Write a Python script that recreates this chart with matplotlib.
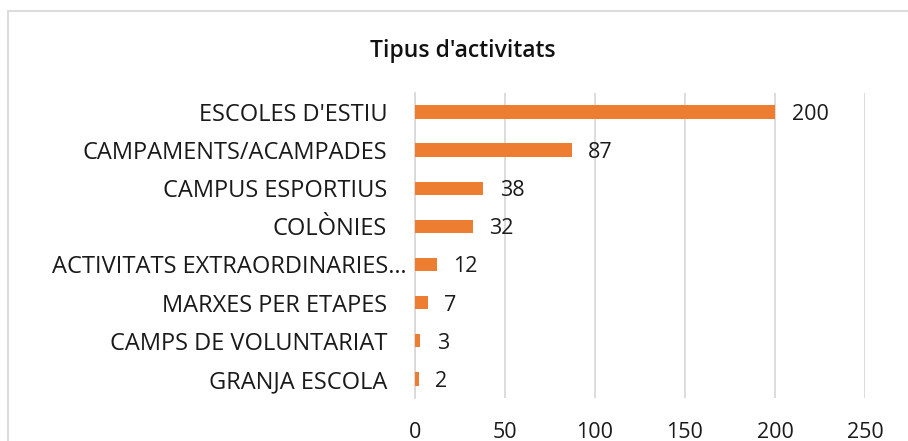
import matplotlib.pyplot as plt
from matplotlib.patches import Rectangle
from matplotlib.transforms import ScaledTranslation

plt.rcParams['font.family'] = ['Open Sans', 'DejaVu Sans']

categories = ["ESCOLES D'ESTIU", "CAMPAMENTS/ACAMPADES", "CAMPUS ESPORTIUS", "COLÒNIES",
              "ACTIVITATS EXTRAORDINARIES…", "MARXES PER ETAPES", "CAMPS DE VOLUNTARIAT",
              "GRANJA ESCOLA"]
values = [200, 87, 38, 32, 12, 7, 3, 2]
xticks = [0, 50, 100, 150, 200, 250]

fig = plt.figure(figsize=(9.08, 4.41), dpi=100)
ax = fig.add_axes([0.457, 0.0975, 0.4956, 0.692])

pos = list(range(len(categories)))
ax.barh(pos, values, height=0.35, color='#ED7D31', zorder=3)
for y, v in zip(pos, values):
    ax.annotate(str(v), (v, y), xytext=(12, 0), textcoords='offset points',
                va='center_baseline', ha='left', fontsize=15.5, color='#1a1a1a')

ax.set_yticks(pos)
ax.set_yticklabels(categories, fontsize=17)
ax.set_ylim(len(categories) - 0.5, -0.5)
ax.set_xlim(0, 250)
ax.set_xticks(xticks)
ax.set_xticklabels([str(t) for t in xticks], fontsize=15.5)
ax.tick_params(axis='both', length=0, colors='#1a1a1a')
ax.tick_params(axis='y', pad=20)
ax.tick_params(axis='x', pad=17)
ax.grid(axis='x', color='#D9D9D9', lw=1.3, zorder=0)
for s in ['top', 'right', 'bottom']:
    ax.spines[s].set_visible(False)
ax.spines['left'].set_color('#D9D9D9')
ax.spines['left'].set_linewidth(1.3)

# truncated label sits closer to the axis
for lab in ax.get_yticklabels():
    if lab.get_text().endswith('…'):
        lab.set_transform(lab.get_transform() + ScaledTranslation(0.19, 0, fig.dpi_scale_trans))

fig.text(0.51, 0.884, "Tipus d'activitats", ha='center', va='center',
         fontsize=16.5, fontweight='semibold', color='#111111')

fig.patches.append(Rectangle((8 / 908, -0.1), 1.2, 1 - 11 / 441 + 0.1,
                             transform=fig.transFigure, fill=False,
                             edgecolor='#D9D9D9', lw=1.3, clip_on=False))

fig.savefig('out.png', dpi=100)
